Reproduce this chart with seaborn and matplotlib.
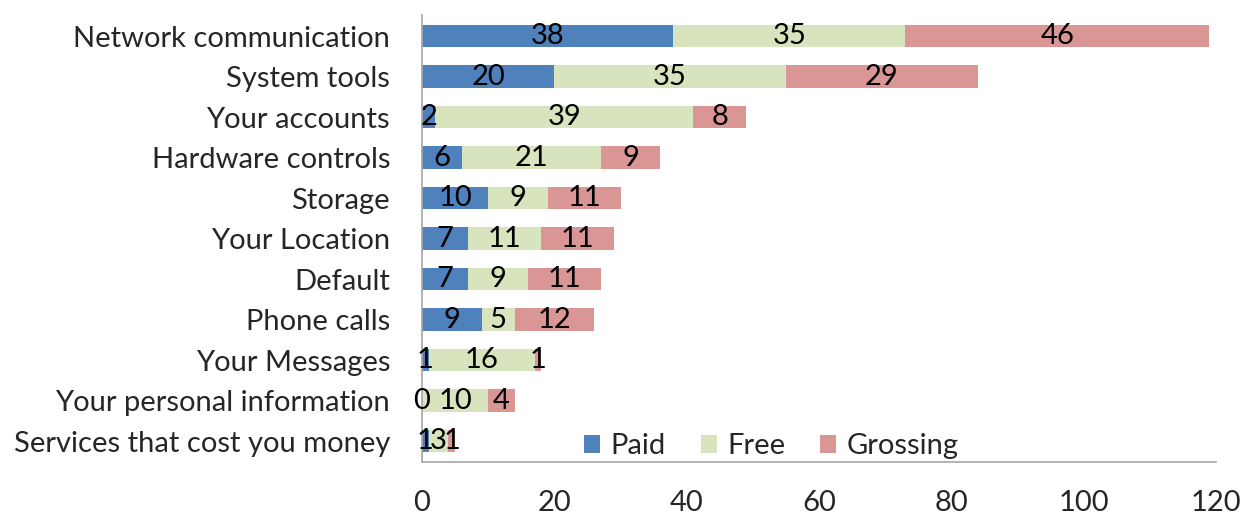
import matplotlib
matplotlib.use("Agg")
import matplotlib.pyplot as plt
import seaborn as sns
import numpy as np
import pandas as pd

categories = ["Network communication", "System tools", "Your accounts",
              "Hardware controls", "Storage", "Your Location", "Default",
              "Phone calls", "Your Messages", "Your personal information",
              "Services that cost you money"]
paid = [38, 20, 2, 6, 10, 7, 7, 9, 1, 0, 1]
free = [35, 35, 39, 21, 9, 11, 9, 5, 16, 10, 3]
grossing = [46, 29, 8, 9, 11, 11, 11, 12, 1, 4, 1]
series_names = ["Paid", "Free", "Grossing"]
colors = ["#4F81BD", "#D7E4BD", "#D99694"]
xticks = [0, 20, 40, 60, 80, 100, 120]

sns.set_theme(style="white")
plt.rcParams['font.family'] = ['Lato', 'DejaVu Sans']
FS = 21

df = pd.DataFrame({"cat": categories, "Paid": paid, "Free": free, "Grossing": grossing})
df["c1"] = df["Paid"]
df["c2"] = df["Paid"] + df["Free"]
df["c3"] = df["c2"] + df["Grossing"]

fig = plt.figure(figsize=(12.46, 5.18), dpi=100)
ax = fig.add_axes([0.3387, 0.108, 0.976 - 0.3387, 0.863])

for col, colr, name in [("c3", colors[2], "Grossing"), ("c2", colors[1], "Free"), ("c1", colors[0], "Paid")]:
    sns.barplot(data=df, y="cat", x=col, orient="h", color=colr, width=0.56,
                ax=ax, saturation=1, label=name, linewidth=0)

lefts = np.zeros(len(categories))
for vals in [paid, free, grossing]:
    for i, v in enumerate(vals):
        ax.text(lefts[i] + v / 2, i, str(v), ha="center", va="center",
                fontsize=FS, color="black")
    lefts = lefts + np.array(vals)

ax.set_xlim(0, 120)
ax.set_ylim(len(categories) - 0.5 + 0.02, -0.5 - 0.02)
ax.set_xticks(xticks)
ax.set_xticklabels([str(t) for t in xticks])
ax.set_xlabel("")
ax.set_ylabel("")
ax.tick_params(axis="x", length=0, pad=20, labelsize=FS)
ax.tick_params(axis="y", length=0, pad=23, labelsize=FS)
for s in ["top", "right"]:
    ax.spines[s].set_visible(False)
for s in ["left", "bottom"]:
    ax.spines[s].set_color("#A6A6A6")
    ax.spines[s].set_linewidth(1.2)

handles, labels = ax.get_legend_handles_labels()
order = [labels.index(n) for n in series_names]
leg = ax.legend([handles[i] for i in order], [labels[i] for i in order],
                loc="center", bbox_to_anchor=(0.44, 0.035), ncol=3, frameon=False,
                fontsize=FS, handlelength=0.55, handleheight=0.55, handletextpad=0.35,
                columnspacing=1.2)

fig.savefig("out.png", dpi=100)
